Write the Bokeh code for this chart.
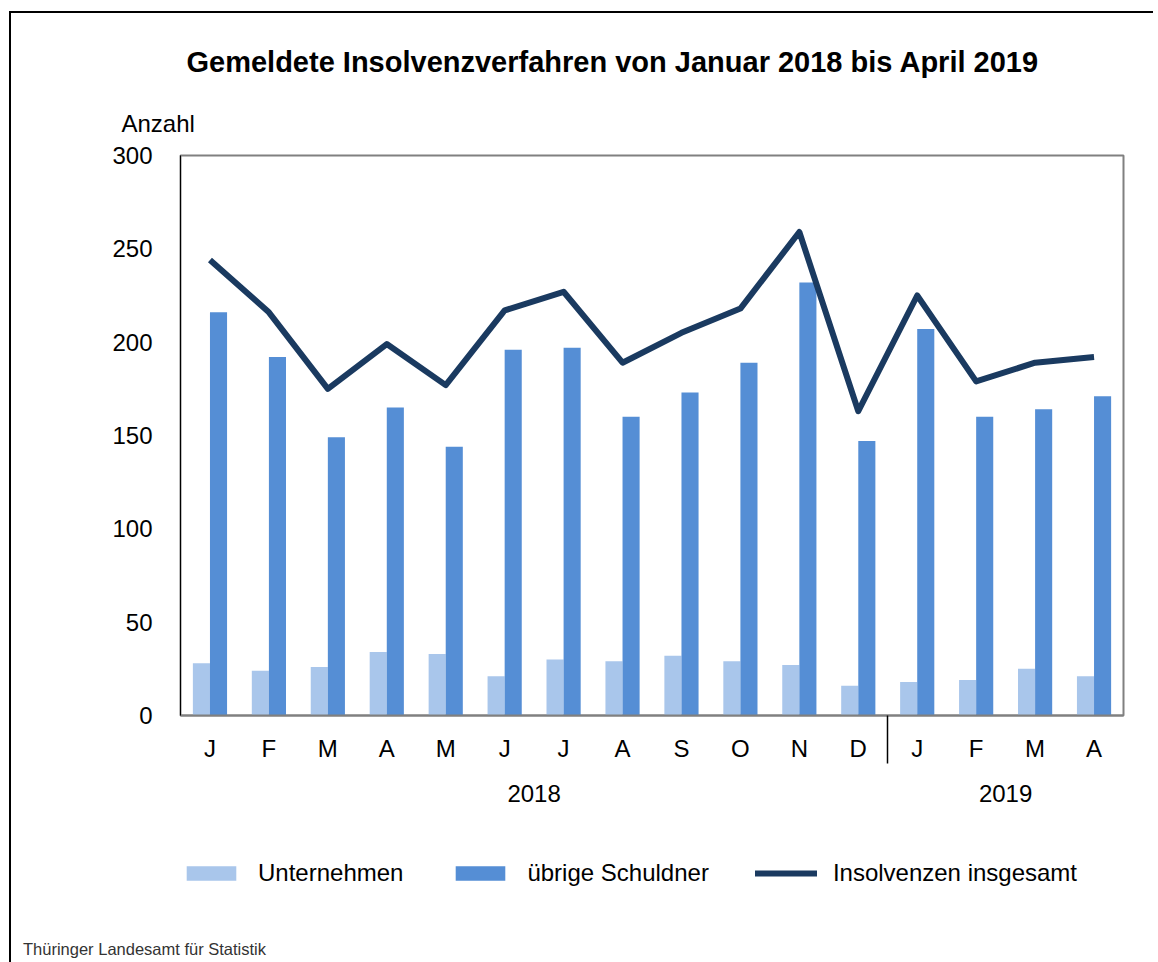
from bokeh.plotting import figure
from bokeh.layouts import column
from bokeh.models import Range1d, FixedTicker, Legend, LegendItem, LinearAxis, Title, Div
from bokeh.embed import file_html
from bokeh.resources import INLINE

# ---- data ----
months = ["J", "F", "M", "A", "M", "J", "J", "A", "S", "O", "N", "D", "J", "F", "M", "A"]
unternehmen = [28, 24, 26, 34, 33, 21, 30, 29, 32, 29, 27, 16, 18, 19, 25, 21]
uebrige = [216, 192, 149, 165, 144, 196, 197, 160, 173, 189, 232, 147, 207, 160, 164, 171]
insgesamt = [244, 216, 175, 199, 177, 217, 227, 189, 205, 218, 259, 163, 225, 179, 189, 192]
years = ["2018", "2019"]
months_per_year = [12, 4]
y_ticks = [0, 50, 100, 150, 200, 250, 300]
series_names = ["Unternehmen", "übrige Schuldner", "Insolvenzen insgesamt"]

FONT = "Liberation Sans"
LIGHT = "#a9c6eb"
DARK = "#558ed5"
NAVY = "#1a3a60"

n = len(months)
xc = [i + 0.5 for i in range(n)]
x_light = [x - 0.145 for x in xc]
x_dark = [x + 0.145 for x in xc]

p = figure(frame_width=943, frame_height=560,
           x_range=Range1d(0, n), y_range=Range1d(0, 300),
           output_backend="svg", toolbar_location=None,
           min_border_left=169, min_border_top=142,
           min_border_right=30, min_border_bottom=115)

p.xgrid.visible = False
p.ygrid.visible = False
p.outline_line_color = "#808080"
p.outline_line_width = 2

p.vbar(x=x_light, top=unternehmen, width=0.29, bottom=0, fill_color=LIGHT, line_color=None)
p.vbar(x=x_dark, top=uebrige, width=0.29, bottom=0, fill_color=DARK, line_color=None)
p.line(x=xc, y=insgesamt, line_color=NAVY, line_width=6, line_join="round")

# title + unit
p.title.text = "Gemeldete Insolvenzverfahren von Januar 2018 bis April 2019"
p.title.align = "left"
p.title.offset = 6
p.title.standoff = 21
p.title.text_font = FONT
p.title.text_font_size = "29px"
p.title.text_font_style = "bold"
p.title.text_color = "black"
p.add_layout(Title(text="Anzahl", align="left", offset=-59, standoff=38, text_font=FONT,
                   text_font_size="24px", text_font_style="normal",
                   text_color="black"), "above")

# y axis
p.yaxis.ticker = FixedTicker(ticks=y_ticks)
p.yaxis.major_tick_line_color = None
p.yaxis.minor_tick_line_color = None
p.yaxis.axis_line_color = "black"
p.yaxis.axis_line_width = 1
p.yaxis.major_label_text_font = FONT
p.yaxis.major_label_text_font_size = "24px"
p.yaxis.major_label_text_color = "black"
p.yaxis.major_label_standoff = 22

# x axis (months)
sep = [float(months_per_year[0])]
p.xaxis.ticker = FixedTicker(ticks=xc, minor_ticks=sep)
p.xaxis.major_label_overrides = {x: m for x, m in zip(xc, months)}
p.xaxis.major_tick_line_color = None
p.xaxis.major_tick_out = 0
p.xaxis.major_tick_in = 0
p.xaxis.minor_tick_line_color = "black"
p.xaxis.minor_tick_line_width = 1.5
p.xaxis.minor_tick_out = 48
p.xaxis.minor_tick_in = 0
p.xaxis.axis_line_color = "#808080"
p.xaxis.axis_line_width = 2
p.xaxis.major_label_text_font = FONT
p.xaxis.major_label_text_font_size = "24px"
p.xaxis.major_label_text_color = "black"
p.xaxis.major_label_standoff = -29

# x axis (years)
year_pos = []
start = 0
for cnt in months_per_year:
    year_pos.append(start + cnt / 2)
    start += cnt
yax = LinearAxis(ticker=FixedTicker(ticks=year_pos),
                 major_label_overrides={x: y for x, y in zip(year_pos, years)},
                 axis_line_color=None, major_tick_line_color=None,
                 minor_tick_line_color=None, major_tick_out=0, major_tick_in=0,
                 major_label_standoff=20, major_label_text_font=FONT,
                 major_label_text_font_size="24px", major_label_text_color="black")
p.add_layout(yax, "below")

# ---- legend strip (series drawn out of view, only the legend shows) ----
p2 = figure(width=1142, height=100, x_range=Range1d(0, n), y_range=Range1d(1000, 1001),
            output_backend="svg", toolbar_location=None,
            min_border_left=0, min_border_right=0, min_border_top=0, min_border_bottom=0)
p2.axis.visible = False
p2.xgrid.visible = False
p2.ygrid.visible = False
p2.outline_line_color = None

e1 = p2.vbar(x=x_light, top=unternehmen, width=0.29, fill_color=LIGHT, line_color=None)
e2 = p2.vbar(x=x_dark, top=uebrige, width=0.29, fill_color=DARK, line_color=None)
e3 = p2.line(x=xc, y=insgesamt, line_color=NAVY, line_width=6, line_cap="round")

legend = Legend(items=[LegendItem(label=series_names[0], renderers=[e1]),
                       LegendItem(label=series_names[1], renderers=[e2]),
                       LegendItem(label=series_names[2], renderers=[e3])],
                location=(0, 43), orientation="horizontal",
                glyph_width=62, glyph_height=18, label_standoff=16,
                padding=0, margin=0, spacing=46,
                border_line_color=None, background_fill_alpha=0,
                label_text_font=FONT, label_text_font_size="24px",
                label_text_color="black")
p2.add_layout(legend, "center")

footer = Div(text="Thüringer Landesamt für Statistik", width=600, height=22,
             styles={"font-family": FONT, "font-size": "16.5px", "color": "#333333",
                     "padding-left": "7px", "padding-top": "3px"})

layout = column(p, p2, footer, spacing=0,
                styles={"border-left": "2px solid black", "border-top": "2px solid black",
                        "margin-left": "9px", "margin-top": "11px"})

open("out.html", "w").write(file_html(layout, INLINE))
